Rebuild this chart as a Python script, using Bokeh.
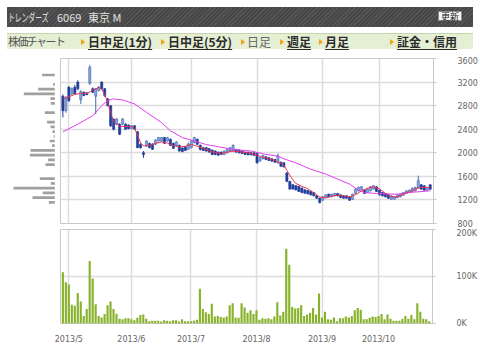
import numpy as np
from bokeh.plotting import figure
from bokeh.layouts import column, row
from bokeh.models import ColumnDataSource, Range1d, FixedTicker, LinearAxis, Grid, Div
from bokeh.core.properties import value
from bokeh.embed import file_html
from bokeh.resources import INLINE

# ---------------- data ----------------
title_parts = ["トレンダーズ", "6069", "東京 M"]
refresh_label = "更新"
nav_label = "株価チャート"
nav_texts = ["日中足(1分)", "日中足(5分)", "日足", "週足", "月足", "証金・信用"]
nav_bold = [True, True, False, True, True, True]

month_idx = [2, 23, 43, 65, 87, 106]
month_labels = ["2013/5", "2013/6", "2013/7", "2013/8", "2013/9", "2013/10"]

price_ticks = [800, 1200, 1600, 2000, 2400, 2800, 3200, 3600]
vol_ticks = [0, 100, 200]
vol_tick_labels = ["0K", "100K", "200K"]

opens = [2960, 2714, 3114, 3000, 3114, 3200, 2900, 3029, 3015, 3180,
         3086, 2960, 3057, 3200, 3086, 2914, 2800, 2572, 2486, 2486,
         2486, 2486, 2470, 2412, 2458, 2355, 2143, 2001, 2115, 2160,
         2144, 2144, 2200, 2200, 2258, 2200, 2229, 2161, 2126, 2126,
         2080, 2100, 2057, 2086, 2172, 2229, 2126, 2086, 2086, 2069,
         2046, 2029, 2012, 2012, 1972, 2000, 2029, 2029, 2057, 2046,
         2029, 2012, 2012, 2000, 2000, 1989, 1858, 1898, 1932, 1915,
         1898, 1886, 1830, 1840, 1829, 1658, 1515, 1458, 1441, 1429,
         1401, 1372, 1360, 1344, 1327, 1269, 1229, 1195, 1240, 1297,
         1252, 1269, 1309, 1286, 1269, 1269, 1252, 1212, 1309, 1354,
         1377, 1366, 1326, 1354, 1383, 1423, 1366, 1326, 1309, 1286,
         1212, 1212, 1240, 1252, 1280, 1309, 1326, 1343, 1354, 1412,
         1457, 1440, 1366, 1457]
closes = [2714, 2943, 2886, 3086, 3000, 3086, 3040, 2972, 2990, 3450,
          3029, 3086, 3114, 3086, 2972, 2800, 2457, 2400, 2572, 2315,
          2572, 2400, 2410, 2458, 2400, 2086, 2086, 1970, 2200, 2086,
          2058, 2215, 2258, 2258, 2161, 2258, 2126, 2075, 2184, 2030,
          2020, 2040, 2150, 2200, 2257, 2143, 2057, 2040, 2029, 2012,
          1972, 1972, 1960, 1972, 2029, 2057, 2086, 2126, 2012, 2000,
          1989, 1972, 1966, 1966, 1955, 1829, 1915, 1955, 1886, 1869,
          1858, 1840, 1950, 1772, 1760, 1515, 1384, 1384, 1372, 1344,
          1327, 1315, 1304, 1287, 1270, 1229, 1155, 1252, 1286, 1252,
          1297, 1309, 1269, 1240, 1229, 1229, 1195, 1297, 1383, 1412,
          1423, 1309, 1383, 1423, 1440, 1343, 1286, 1269, 1252, 1229,
          1269, 1252, 1286, 1297, 1326, 1354, 1366, 1400, 1412, 1526,
          1383, 1366, 1412, 1383]
highs = [2990, 2960, 3130, 3110, 3150, 3230, 3060, 3040, 3030, 3490,
         3110, 3100, 3130, 3210, 3100, 2930, 2810, 2580, 2590, 2500,
         2590, 2500, 2480, 2470, 2470, 2370, 2160, 2030, 2210, 2170,
         2160, 2230, 2270, 2270, 2270, 2270, 2240, 2170, 2195, 2140,
         2090, 2110, 2172, 2215, 2270, 2240, 2140, 2095, 2095, 2080,
         2055, 2040, 2020, 2020, 2040, 2065, 2095, 2143, 2065, 2055,
         2040, 2020, 2020, 2010, 2010, 2000, 1925, 1965, 1940, 1925,
         1905, 1895, 1985, 1850, 1840, 1670, 1520, 1470, 1450, 1440,
         1410, 1380, 1370, 1355, 1335, 1280, 1240, 1262, 1295, 1305,
         1305, 1318, 1318, 1295, 1278, 1278, 1260, 1305, 1395, 1425,
         1435, 1375, 1392, 1432, 1450, 1432, 1375, 1335, 1318, 1295,
         1278, 1260, 1295, 1305, 1335, 1362, 1375, 1410, 1422, 1611,
         1470, 1450, 1420, 1465]
lows = [2600, 2680, 2860, 2980, 2990, 3060, 2829, 2960, 2975, 3150,
        3010, 2660, 3040, 3070, 2950, 2790, 2440, 2380, 2470, 2300,
        2470, 2390, 2400, 2400, 2390, 2080, 2070, 1915, 2100, 2080,
        2050, 2130, 2190, 2190, 2150, 2190, 2115, 2065, 2115, 2020,
        2010, 2030, 2050, 2075, 2160, 2130, 2040, 2030, 2020, 2000,
        1960, 1960, 1950, 1960, 1960, 1990, 2020, 2020, 2000, 1990,
        1980, 1960, 1955, 1955, 1945, 1818, 1850, 1890, 1875, 1860,
        1850, 1830, 1815, 1760, 1750, 1500, 1375, 1375, 1360, 1335,
        1315, 1305, 1295, 1275, 1260, 1220, 1140, 1185, 1230, 1245,
        1245, 1260, 1260, 1230, 1220, 1220, 1185, 1200, 1300, 1345,
        1365, 1300, 1315, 1345, 1375, 1335, 1275, 1260, 1245, 1220,
        1200, 1205, 1230, 1245, 1270, 1300, 1318, 1335, 1345, 1400,
        1375, 1355, 1360, 1375]
volumes_k = [109, 88, 83, 40, 38, 65, 47, 16, 31, 133,
             96, 41, 16, 13, 20, 39, 47, 31, 21, 10,
             9, 11, 11, 9, 7, 12, 18, 19, 10, 5,
             6, 6, 6, 4, 7, 6, 5, 7, 7, 4,
             9, 5, 5, 5, 6, 8, 74, 31, 24, 20,
             42, 15, 16, 14, 13, 15, 39, 43, 13, 12,
             43, 34, 23, 28, 20, 28, 8, 11, 10, 11,
             9, 15, 45, 17, 25, 159, 125, 35, 32, 33,
             39, 16, 19, 23, 33, 19, 64, 13, 25, 9,
             8, 13, 5, 11, 11, 15, 13, 16, 28, 33,
             29, 9, 9, 12, 15, 14, 16, 20, 9, 19,
             10, 6, 6, 6, 10, 16, 10, 18, 9, 43,
             25, 10, 9, 5]

ma_short_idx = [0, 2, 4, 6, 8, 10, 12, 13, 14, 15, 16, 17, 19, 21, 23, 24, 25, 26, 27,
                29, 31, 33, 35, 37, 39, 41, 43, 45, 47, 49, 51, 53, 55, 57, 59, 61, 63,
                65, 67, 69, 71, 73, 74, 75, 76, 77, 78, 80, 82, 84, 86, 88, 90, 92, 94,
                96, 98, 100, 102, 104, 106, 108, 110, 112, 114, 116, 118, 120, 122, 123]
ma_short = [2914, 2950, 2990, 3010, 3005, 3060, 3110, 3080, 2990, 2850, 2680, 2530, 2450,
            2446, 2446, 2412, 2300, 2170, 2115, 2126, 2160, 2183, 2165, 2120, 2100, 2110,
            2143, 2110, 2075, 2030, 2005, 1990, 2010, 2030, 2020, 2005, 1992, 1960, 1920,
            1900, 1870, 1820, 1790, 1700, 1620, 1540, 1480, 1430, 1390, 1320, 1250, 1235,
            1265, 1280, 1269, 1245, 1290, 1354, 1400, 1423, 1390, 1310, 1255, 1252, 1295,
            1337, 1383, 1412, 1412, 1412]
ma_long_idx = [0, 5, 10, 13, 15, 17, 20, 24, 28, 33, 36, 40, 44, 48, 52, 57, 63, 68, 72,
               74, 78, 83, 88, 92, 96, 99, 101, 105, 112, 116, 123]
ma_long = [2355, 2486, 2629, 2800, 2890, 2914, 2897, 2829, 2686, 2515, 2372, 2258, 2200,
           2140, 2103, 2057, 2029, 1972, 1943, 1898, 1829, 1720, 1640, 1554, 1469, 1366,
           1326, 1309, 1297, 1326, 1354]

hist_price = [3320, 3160, 3080, 3000, 2920, 2840, 2680, 2520, 2440, 2360, 2280, 2200,
              2120, 2040, 1960, 1880, 1800, 1560, 1480, 1400, 1320, 1240, 1160]
hist_vol = [127, 17, 167, 310, 43, 40, 100, 77, 43, 23, 10, 50, 27, 243, 250, 67, 93,
            150, 40, 413, 120, 223, 60]

# ---------------- styling ----------------
JP = "'Noto Sans CJK JP', sans-serif"
AX = "DejaVu Sans"
GRID = "#dcdcdc"
FRAME = "#c8c8c8"
LBL = "#666666"

# ---------------- header (HTML) ----------------
def span(txt, left, top, h, size, color, weight="normal", extra=""):
    return ('<span style="position:absolute;left:%spx;top:%spx;height:%spx;line-height:%spx;'
            'font-size:%spx;color:%s;font-weight:%s;white-space:nowrap;font-family:%s;%s">%s</span>'
            % (left, top, h, h, size, color, weight, JP, extra, txt))

parts = []
parts.append('<div style="position:absolute;left:7px;top:7px;width:466px;height:20px;'
             'background:repeating-linear-gradient(135deg,#575757 0px,#575757 1px,#474747 1px,#474747 3px);"></div>')
parts.append(span(title_parts[0], 8, 7, 20, 11, "#e2e2e2",
                  extra="transform:scaleX(0.62);transform-origin:0 50%;"))
parts.append(span(title_parts[1], 57, 7, 20, 11, "#e2e2e2"))
parts.append(span(title_parts[2], 88, 7, 20, 11, "#e2e2e2"))
parts.append('<div style="position:absolute;left:438px;top:11px;width:24px;height:10px;'
             'background:#f4f4f4;border:1px solid #8c8c8c;"></div>')
parts.append(span(refresh_label, 441, 11, 12, 9, "#222222"))
parts.append('<div style="position:absolute;left:7px;top:33px;width:466px;height:16px;'
             'background:#e5efd4;border-top:1px solid #c6d4ae;"></div>')
parts.append(span(nav_label, 8, 33, 17, 11, "#555555", extra="letter-spacing:-1.6px;"))
nav_x = [88, 168, 247, 287, 325, 397]
arrow_x = [81, 161, 241, 280, 319, 390]
for t, xx, ax_, b in zip(nav_texts, nav_x, arrow_x, nav_bold):
    parts.append('<div style="position:absolute;left:%spx;top:39px;width:0;height:0;'
                 'border-left:4px solid #f2a20f;border-top:3px solid transparent;'
                 'border-bottom:3px solid transparent;"></div>' % ax_)
    if b:
        parts.append(span(t, xx, 33, 17, 12, "#2b2b2b", weight="bold",
                          extra="text-decoration:underline;text-underline-offset:2px;"))
    else:
        parts.append(span(t, xx, 33, 17, 12, "#666666"))
html = '<div style="position:relative;width:480px;height:56px;">' + "".join(parts) + '</div>'
hdr = Div(text=html, width=480, height=56, margin=(0, 0, 0, 0))

# ---------------- price ----------------
n = len(opens)
idx = np.arange(n)
o = np.array(opens); c = np.array(closes)
up = c >= o
src = ColumnDataSource(dict(
    x=idx, top=np.maximum(o, c), bottom=np.minimum(o, c), high=highs, low=lows,
    fill=np.where(up, "#8aa6db", "#1e3c98"), line=np.where(up, "#4766b0", "#1e3c98")))

xr = Range1d(-0.8, 124.1)
price = figure(width=420, height=172, x_range=xr, y_range=Range1d(800, 3600),
               output_backend="svg", toolbar_location=None,
               min_border_left=0, min_border_right=42, min_border_top=2, min_border_bottom=5,
               x_axis_location=None, y_axis_location=None)
price.grid.visible = False
price.outline_line_color = FRAME
price.add_layout(Grid(dimension=0, ticker=FixedTicker(ticks=month_idx), grid_line_color=GRID,
                      grid_line_width=1.5))
price.add_layout(Grid(dimension=1, ticker=FixedTicker(ticks=price_ticks), grid_line_color=GRID,
                      grid_line_width=1.5))
ay = LinearAxis(ticker=FixedTicker(ticks=price_ticks), axis_line_color=None,
                major_tick_line_color=FRAME, major_tick_out=3, major_tick_in=0,
                minor_tick_line_color=None, major_label_text_font_size="8px",
                major_label_text_color=LBL, major_label_text_font=AX,
                major_label_text_align="right", major_label_standoff=21)
price.add_layout(ay, "right")
price.segment(x0="x", y0="low", x1="x", y1="high", line_color="line", source=src)
price.vbar(x="x", top="top", bottom="bottom", width=0.72, fill_color="fill",
           line_color="line", line_width=0.6, source=src)
price.line(ma_long_idx, ma_long, line_color="#e040f0", line_width=1)
price.line(ma_short_idx, ma_short, line_color="#ee3050", line_width=1)

# ---------------- volume-by-price histogram ----------------
hist = figure(width=60, height=172, x_range=Range1d(543, -57), y_range=price.y_range,
              output_backend="svg", toolbar_location=None,
              min_border_left=0, min_border_right=0, min_border_top=2, min_border_bottom=5,
              x_axis_location=None, y_axis_location=None)
hist.grid.visible = False
hist.outline_line_color = None
hist.hbar(y=hist_price, left=0, right=hist_vol, height=46, fill_color="#a0a0a0",
          line_color=None)

# ---------------- volume ----------------
vol = figure(width=480, height=118, x_range=xr, y_range=Range1d(0, 200),
             output_backend="svg", toolbar_location=None,
             min_border_left=60, min_border_right=42, min_border_top=1, min_border_bottom=18,
             x_axis_location=None, y_axis_location=None)
vol.grid.visible = False
vol.outline_line_color = FRAME
vol.add_layout(Grid(dimension=0, ticker=FixedTicker(ticks=month_idx), grid_line_color=GRID,
                    grid_line_width=1.5))
vol.add_layout(Grid(dimension=1, ticker=FixedTicker(ticks=vol_ticks), grid_line_color=GRID,
                    grid_line_width=1.5))
vy = LinearAxis(ticker=FixedTicker(ticks=vol_ticks),
                major_label_overrides=dict(zip(vol_ticks, vol_tick_labels)),
                axis_line_color=None, major_tick_line_color=FRAME, major_tick_out=3,
                major_tick_in=0, minor_tick_line_color=None, major_label_text_font_size="8px",
                major_label_text_color=LBL, major_label_text_font=AX,
                major_label_text_align="right", major_label_standoff=21)
vol.add_layout(vy, "right")
vx = LinearAxis(ticker=FixedTicker(ticks=month_idx),
                major_label_overrides=dict(zip(month_idx, month_labels)),
                axis_line_color=None, major_tick_line_color=None, minor_tick_line_color=None,
                major_label_text_font_size="8px", major_label_text_color=LBL,
                major_label_text_font=AX, major_label_standoff=5)
vol.add_layout(vx, "below")
vol.vbar(x=idx, top=volumes_k, width=0.72, fill_color="#88b22c", line_color=None)

layout = column(hdr, row(hist, price), vol)
open("out.html", "w").write(file_html(layout, INLINE))
